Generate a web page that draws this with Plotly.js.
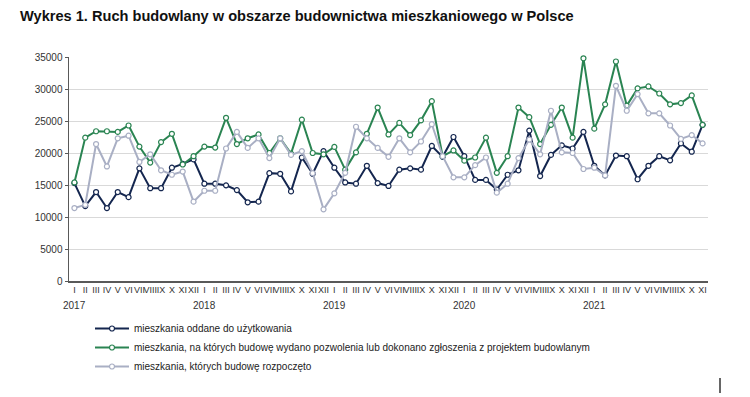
<!DOCTYPE html>
<html>
<head>
<meta charset="utf-8">
<script src="https://cdn.plot.ly/plotly-3.0.1.min.js"></script>
<style>
html,body{margin:0;padding:0;background:#fff;}
#chart{width:750px;height:397px;}
</style>
</head>
<body>
<div id="chart"></div>
<script>
const months = ["I","II","III","IV","V","VI","VII","VIII","IX","X","XI","XII"];
const years = ["2017","2018","2019","2020","2021"];

const oddane = [15300,11700,13900,11400,13900,13100,17600,14500,14500,17700,18300,19000,
  15200,15200,14950,14200,12300,12400,16850,16750,14000,19300,16750,20300,
  17700,15400,15200,18000,15300,14850,17400,17600,17400,21100,19400,22500,
  19500,15800,15800,14300,16600,17300,23500,16400,19700,21200,20700,23300,
  18000,16500,19600,19500,15900,18000,19500,18850,21500,20200,24400];

const pozwolenia = [15400,22400,23400,23400,23300,24300,21000,18500,21700,23000,18200,19500,
  21000,20850,25500,21400,22300,22900,20000,22300,19900,25200,20000,19800,
  20950,17400,20100,23000,27100,22900,24700,22800,25100,28100,19500,20400,
  18800,19300,22400,16900,19500,27100,25600,21400,24400,27100,22400,34800,
  23800,27600,34300,27400,30100,30400,29300,27600,27800,29000,24400];

const rozpoczete = [11400,11900,21400,17900,22300,22700,18600,19800,17300,16600,17100,12400,
  14100,14100,20700,23300,20800,22300,19200,22300,19700,20300,16850,11200,
  13700,16900,24100,22300,20800,19400,22300,20100,21800,24500,19500,16200,
  16200,18100,19300,13800,15200,19200,22100,19800,26600,20100,20000,17500,
  17700,16500,30500,26600,29200,26200,26200,24300,22200,22800,21500];

const seriesNames = [
  "mieszkania oddane do użytkowania",
  "mieszkania, na których budowę wydano pozwolenia lub dokonano zgłoszenia z projektem budowlanym",
  "mieszkania, których budowę rozpoczęto"
];
const colors = ["#14264f", "#2a8452", "#a9afc4"];
const FONT = "Liberation Sans, Arial, sans-serif";

const n = oddane.length;
const xCats = [], tickText = [];
for (let i = 0; i < n; i++) {
  const y = years[Math.floor(i / 12)];
  const m = months[i % 12];
  xCats.push(y + "-" + m);
  tickText.push(m);
}

const data = [oddane, pozwolenia, rozpoczete].map((vals, k) => ({
  type: "scatter",
  mode: "lines+markers",
  x: xCats,
  y: vals,
  name: seriesNames[k],
  cliponaxis: false,
  line: {color: colors[k], width: 2},
  marker: {symbol: "circle", size: 5, color: "#ffffff", line: {color: colors[k], width: 1.2}},
  hoverinfo: "skip"
}));

const annotations = years.map((yr, j) => ({
  x: xCats[j * 12], y: 0, xref: "x", yref: "paper",
  yshift: -24, text: yr, showarrow: false,
  font: {family: FONT, size: 10, color: "#333"},
  xanchor: "center", yanchor: "middle"
}));

const layout = {
  width: 750, height: 397,
  paper_bgcolor: "#ffffff", plot_bgcolor: "#ffffff",
  margin: {l: 69, r: 42, t: 57, b: 116, autoexpand: false},
  title: {
    text: "<b>Wykres 1. Ruch budowlany w obszarze budownictwa mieszkaniowego w Polsce</b>",
    x: 20/750, xanchor: "left", xref: "container",
    y: 1 - 16/397, yanchor: "middle", yref: "container",
    font: {family: FONT, size: 14.6, color: "#111"}
  },
  showlegend: true,
  legend: {
    x: (90-69)/639, y: 1 - 314/397, xref: "paper", yref: "container",
    xanchor: "left", yanchor: "top",
    orientation: "v",
    font: {family: FONT, size: 10, color: "#222"},
    itemwidth: 34, tracegroupgap: 4, bgcolor: "rgba(0,0,0,0)"
  },
  xaxis: {
    type: "category",
    tickmode: "array", tickvals: xCats, ticktext: tickText, tickangle: 0,
    showgrid: false, showline: true, linecolor: "#595959", linewidth: 1.5,
    ticks: "", zeroline: false,
    tickfont: {family: FONT, size: 9, color: "#333"},
    range: [-0.5, n - 0.5]
  },
  yaxis: {
    range: [0, 35000], dtick: 5000, tick0: 0,
    showgrid: true, gridcolor: "#d9d9d9", gridwidth: 1,
    showline: true, linecolor: "#595959", linewidth: 1.5,
    ticks: "outside", ticklen: 3, tickcolor: "#595959",
    zeroline: false,
    tickfont: {family: FONT, size: 10, color: "#333"},
    tickformat: "d"
  },
  annotations: annotations,
  shapes: [{
    type: "line", xref: "paper", yref: "paper",
    x0: (720-69)/639, x1: (720-69)/639,
    y0: -(378-281)/224, y1: -(393-281)/224,
    line: {color: "#333", width: 1.5}
  }]
};

Plotly.newPlot("chart", data, layout, {staticPlot: true, displayModeBar: false});
</script>
</body>
</html>
